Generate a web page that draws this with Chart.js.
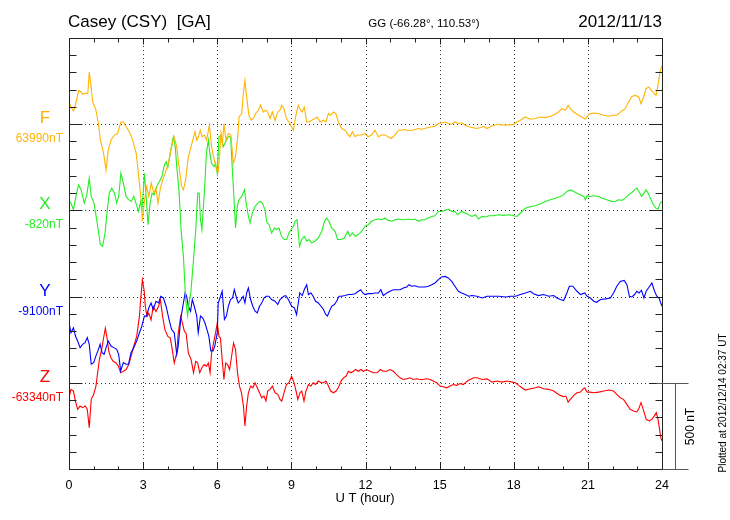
<!DOCTYPE html>
<html>
<head>
<meta charset="utf-8">
<script src="https://cdn.jsdelivr.net/npm/chart.js@4.4.0/dist/chart.umd.min.js"></script>
<style>
body { margin: 0; background: #fff; }
</style>
</head>
<body>
<canvas id="myChart" width="730" height="520"></canvas>
<script>
/* 성분별 데이터 (기준값 대비 nT 편차) */
const components = ['F', 'X', 'Y', 'Z'];
const baseLabels = ['63990nT', '-820nT', '-9100nT', '-63340nT'];
const offsets = [1500, 1000, 500, 0];
const colors = ['#ffb400', '#22ee22', '#0000ff', '#ff0000'];
const hourLabels = [0, 3, 6, 9, 12, 15, 18, 21, 24];

const fTimes = [0, .08, .18, .26, .39, .49, .55, .69, .76, .82, .88, .96, 1.09, 1.19, 1.27, 1.4, 1.5, 1.59, 1.7, 1.84, 1.97, 2.1, 2.2, 2.3, 2.44, 2.58, 2.72, 2.82, 2.92, 2.97,
	3.06, 3.14, 3.23, 3.33, 3.43, 3.52, 3.6, 3.7, 3.79, 3.89, 4.02, 4.15, 4.25, 4.36, 4.45, 4.56, 4.63, 4.72, 4.83, 4.94, 5.04, 5.1, 5.17, 5.24, 5.31, 5.39, 5.48, 5.57, 5.68, 5.77,
	5.88, 5.98, 6.04, 6.1, 6.15, 6.21, 6.27, 6.35, 6.45, 6.55, 6.65, 6.74, 6.83, 6.88, 6.99, 7.05, 7.12, 7.19, 7.28, 7.37, 7.46, 7.55, 7.66, 7.75, 7.86, 7.97,
	8.04, 8.14, 8.23, 8.34, 8.45, 8.54, 8.61, 8.7, 8.8, 8.94, 9.08, 9.17, 9.28, 9.37, 9.44, 9.52, 9.62, 9.71, 9.82, 9.96, 10.05, 10.16, 10.3, 10.4, 10.5, 10.6, 10.7, 10.8, 10.9,
	11.04, 11.17, 11.31, 11.37, 11.47, 11.58, 11.68, 11.85, 11.98, 12.1, 12.24, 12.38, 12.52, 12.65, 12.79, 12.92, 13.03, 13.19, 13.33, 13.47, 13.6, 13.73, 13.87, 14.0,
	14.14, 14.27, 14.41, 14.54, 14.68, 14.81, 14.95, 15.08, 15.22, 15.35, 15.49, 15.62, 15.76, 15.89, 16.04, 16.17, 16.31, 16.51, 16.65, 16.78, 16.92, 17.05, 17.19, 17.39,
	17.59, 17.8, 18.0, 18.13, 18.27, 18.47, 18.67, 18.88, 19.08, 19.28, 19.48, 19.68, 19.81, 19.95, 20.09, 20.2, 20.29, 20.43, 20.63, 20.76, 20.9, 21.03, 21.23, 21.43,
	21.64, 21.84, 22.04, 22.17, 22.38, 22.51, 22.65, 22.78, 22.92, 23.06, 23.15, 23.26, 23.35, 23.46, 23.57, 23.66, 23.76, 23.87, 23.93, 24.0];
const fValues = [129, 100, 77, 110, 196, 187, 173, 181, 177, 302, 235, 129, 81, 4, -92, -169, -265, -150, -92, -63, -54, 13, 13, -12, -44, -92, -169, -304, -438, -563,
	-438, -361, -419, -342, -400, -371, -458, -371, -323, -285, -227, -131, -73, -131, -246, -361, -381, -323, -188, -131, -73, -44, -92, -73, -35, -73, -63, -92, -6, -131,
	-208, -265, -275, -169, -54, -111, 4, -92, -54, -63, -227, -188, -73, 42, 62, 167, 254, 158, 52, 23, 33, 62, 81, 110, 71, 81,
	71, 33, 71, 23, 71, 81, 110, 90, 33, 4, -35, 42, 110, 81, 71, 100, 13, 13, 23, 33, 42, 13, 23, 13, 62, 52, 71, 62, 13,
	-25, -35, -63, -73, -44, -73, -63, -63, -54, -73, -63, -35, -73, -63, -63, -73, -83, -63, -35, -35, -31, -38, -35, -31,
	-25, -29, -25, -19, -15, -12, 4, 8, 13, 4, 0, 13, 4, 8, -6, -15, -19, -25, -19, -12, -25, -15, -6, 0,
	-6, -4, 0, 13, 23, 42, 29, 33, 42, 38, 46, 58, 71, 90, 81, 110, 90, 71, 52, 42, 29, 58, 65, 62,
	52, 46, 52, 52, 77, 90, 129, 161, 167, 158, 119, 158, 206, 215, 196, 181, 167, 254, 311, 340];

const xTimes = [0, .08, .18, .28, .39, .49, .62, .72, .82, .9, 1.01, 1.12, 1.2, 1.27, 1.36, 1.46, 1.55, 1.63, 1.73, 1.84, 1.93, 2.01, 2.1, 2.2, 2.31, 2.41, 2.52, 2.62, 2.71, 2.81,
	2.9, 2.95, 3.05, 3.12, 3.2, 3.28, 3.36, 3.45, 3.55, 3.66, 3.76, 3.86, 3.93, 4.0, 4.12, 4.22, 4.3, 4.36, 4.45, 4.54, 4.63, 4.72, 4.8, 4.86, 4.93, 5.04, 5.13, 5.21, 5.27, 5.32,
	5.38, 5.44, 5.5, 5.56, 5.64, 5.7, 5.77, 5.87, 5.93, 6.0, 6.07, 6.15, 6.24, 6.34, 6.45, 6.54, 6.62, 6.68, 6.74, 6.81, 6.88, 6.99, 7.1, 7.17, 7.26, 7.33, 7.42, 7.53, 7.64, 7.73,
	7.83, 7.93, 8.01, 8.1, 8.2, 8.31, 8.4, 8.5, 8.6, 8.71, 8.81, 8.9, 8.99, 9.08, 9.15, 9.23, 9.28, 9.33, 9.42, 9.52, 9.62, 9.71, 9.82, 9.96, 10.09, 10.23, 10.34, 10.43, 10.52,
	10.63, 10.77, 10.87, 11.01, 11.14, 11.28, 11.37, 11.47, 11.58, 11.71, 11.85, 11.98, 12.11, 12.25, 12.38, 12.52, 12.65, 12.79, 12.92, 13.06, 13.2, 13.33, 13.47, 13.6,
	13.73, 13.87, 14.0, 14.14, 14.27, 14.41, 14.54, 14.68, 14.81, 14.95, 15.08, 15.22, 15.35, 15.49, 15.62, 15.73, 15.89, 16.04, 16.17, 16.31, 16.45, 16.58, 16.72, 16.85,
	16.99, 17.19, 17.39, 17.59, 17.8, 18.0, 18.13, 18.27, 18.47, 18.67, 18.88, 19.08, 19.28, 19.48, 19.68, 19.88, 20.01, 20.15, 20.29, 20.43, 20.56, 20.7, 20.83, 20.9,
	20.97, 21.11, 21.24, 21.44, 21.57, 21.71, 21.84, 21.98, 22.11, 22.24, 22.38, 22.51, 22.65, 22.78, 22.89, 22.98, 23.07, 23.17, 23.27, 23.36, 23.45, 23.56, 23.65, 23.75,
	23.84, 23.93, 24.0];
const xValues = [52, 42, 4, 81, 148, 119, 42, 90, 187, 81, 42, -54, -131, -198, -208, -131, 4, 100, 129, 100, 42, 81, 215, 158, 81, 62, 52, 81, 42, -6,
	52, -6, 215, 81, -83, 42, 100, 90, 138, 167, 196, 263, 283, 250, 350, 427, 370, 254, 119, -120, -265, -515, -611, -535, -477, -285, -111, 100, 100, -54,
	-111, 23, 158, 331, 408, 331, 273, 254, 273, 215, 427, 437, 369, 398, 427, 427, 215, 62, -102, 23, 62, 81, 119, 42, -35, -73, -15, 23, 42, 52,
	42, 4, -70, -83, -131, -102, -111, -102, -150, -169, -169, -131, -111, -92, -63, -54, -131, -208, -169, -150, -179, -169, -188, -179, -160, -121, -63, -44, -63,
	-102, -121, -169, -169, -160, -121, -150, -131, -150, -140, -121, -92, -83, -63, -54, -50, -54, -44, -58, -63, -54, -50, -54, -54,
	-50, -54, -50, -63, -54, -54, -44, -35, -31, -6, -6, 0, 8, -6, -6, -25, -6, -15, -25, -35, -25, -50, -35, -38,
	-31, -31, -25, -29, -25, -31, -35, -15, 13, 23, 27, 38, 52, 62, 71, 81, 90, 110, 119, 110, 100, 90, 81, 62,
	85, 81, 85, 81, 71, 65, 58, 52, 52, 62, 58, 71, 90, 104, 119, 129, 110, 81, 100, 119, 96, 62, 33, 13,
	8, 42, 52];

const yTimes = [0, .08, .18, .26, .35, .45, .55, .65, .74, .82, .9, 1.0, 1.09, 1.17, 1.26, 1.34, 1.42, 1.5, 1.59, 1.7, 1.81, 1.93, 2.01, 2.09, 2.2, 2.31, 2.41, 2.51, 2.62, 2.74,
	2.85, 2.95, 3.05, 3.14, 3.23, 3.32, 3.41, 3.52, 3.63, 3.71, 3.82, 3.93, 4.05, 4.15, 4.26, 4.36, 4.42, 4.52, 4.63, 4.7, 4.76, 4.83, 4.92, 4.99, 5.07, 5.17, 5.23, 5.32, 5.41, 5.5,
	5.58, 5.66, 5.74, 5.83, 5.9, 6.0, 6.04, 6.11, 6.2, 6.29, 6.37, 6.45, 6.54, 6.62, 6.69, 6.78, 6.85, 6.96, 7.05, 7.12, 7.19, 7.26, 7.35, 7.44, 7.53, 7.62, 7.71, 7.8, 7.89, 7.98,
	8.09, 8.2, 8.34, 8.45, 8.54, 8.69, 8.77, 8.88, 9.01, 9.12, 9.21, 9.28, 9.34, 9.44, 9.52, 9.62, 9.69, 9.79, 9.88, 9.98, 10.09, 10.2, 10.3, 10.39, 10.46, 10.54, 10.63, 10.74,
	10.83, 10.93, 11.04, 11.17, 11.31, 11.44, 11.58, 11.71, 11.81, 11.89, 11.98, 12.11, 12.25, 12.38, 12.52, 12.62, 12.72, 12.86, 12.99, 13.13, 13.26, 13.4, 13.53, 13.67,
	13.76, 13.87, 14.0, 14.14, 14.27, 14.41, 14.54, 14.68, 14.81, 14.95, 15.08, 15.22, 15.35, 15.49, 15.62, 15.76, 15.89, 16.04, 16.17, 16.31, 16.51, 16.72, 16.92, 17.12,
	17.39, 17.67, 17.87, 18.07, 18.27, 18.47, 18.67, 18.8, 19.0, 19.21, 19.41, 19.62, 19.75, 19.88, 20.02, 20.15, 20.25, 20.39, 20.56, 20.7, 20.87, 20.97, 21.1, 21.24,
	21.35, 21.51, 21.71, 21.91, 22.04, 22.17, 22.31, 22.47, 22.58, 22.68, 22.78, 22.89, 22.98, 23.07, 23.17, 23.27, 23.36, 23.45, 23.59, 23.7, 23.79, 23.88, 23.95, 24.0];
const yValues = [-152, -210, -181, -229, -258, -296, -277, -267, -238, -277, -392, -383, -344, -315, -277, -325, -335, -296, -258, -287, -296, -306, -335, -431, -383, -392, -392, -325, -296, -258,
	-210, -171, -113, -113, -65, -37, -75, -27, -37, 2, -8, -56, -133, -190, -210, -335, -287, -133, -37, 21, 2, -56, -85, -17, -56, -113, -210, -113, -123, -152,
	-190, -229, -315, -315, -287, -210, -37, -8, 31, -133, -113, -56, -17, -8, 40, -8, -37, -17, 2, -37, 21, 50, -17, -56, -85, -94, -56, -37, -8, 2,
	2, -17, -27, -46, -17, 2, 6, -17, -56, -65, -104, -37, 21, 6, 40, 69, 12, 21, 2, -27, -37, -56, -75, -104, -113, -85, -56, -46,
	-27, 2, 2, 6, 12, 12, 17, 31, 40, 21, 12, 17, 17, 21, 21, 40, 6, 21, 31, 40, 40, 40, 50, 56,
	69, 60, 63, 56, 56, 56, 60, 69, 79, 98, 114, 117, 108, 88, 60, 31, 21, 12, 2, 6, 2, -8, 2, 2,
	2, -2, 2, 2, 12, 21, 31, 17, 6, 12, 2, 6, -8, -17, -23, 21, 60, 60, 31, 12, 21, 2, -8, -27,
	-33, -17, -13, -8, 21, 60, 88, 94, 69, 2, -2, 12, 31, 21, 37, -8, 31, 50, 79, 31, 2, -8, -37, -56];

const zTimes = [0, .08, .18, .26, .35, .45, .55, .66, .74, .82, .9, 1.0, 1.09, 1.16, 1.23, 1.32, 1.4, 1.47, 1.54, 1.61, 1.7, 1.79, 1.9, 2.0, 2.09, 2.2, 2.31, 2.42, 2.51, 2.62,
	2.74, 2.85, 2.91, 2.97, 3.04, 3.09, 3.16, 3.23, 3.32, 3.41, 3.52, 3.62, 3.7, 3.79, 3.88, 4.0, 4.1, 4.18, 4.26, 4.36, 4.42, 4.52, 4.59, 4.67, 4.74, 4.83, 4.94, 5.04, 5.13, 5.21,
	5.29, 5.38, 5.47, 5.56, 5.64, 5.71, 5.77, 5.85, 5.93, 6.0, 6.07, 6.13, 6.2, 6.27, 6.34, 6.42, 6.5, 6.58, 6.66, 6.74, 6.82, 6.9, 6.98, 7.06, 7.12, 7.19, 7.26, 7.35, 7.44, 7.53,
	7.62, 7.71, 7.8, 7.89, 7.97, 8.04, 8.14, 8.23, 8.34, 8.45, 8.54, 8.61, 8.7, 8.8, 8.9, 9.01, 9.11, 9.19, 9.26, 9.35, 9.42, 9.51, 9.59, 9.69, 9.79, 9.88, 9.98, 10.09, 10.2,
	10.3, 10.4, 10.5, 10.59, 10.7, 10.81, 10.9, 11.01, 11.11, 11.21, 11.31, 11.41, 11.51, 11.6, 11.71, 11.82, 11.91, 12.05, 12.18, 12.33, 12.47, 12.6, 12.72, 12.86, 12.99,
	13.13, 13.26, 13.4, 13.53, 13.67, 13.8, 13.93, 14.07, 14.2, 14.34, 14.47, 14.61, 14.74, 14.88, 15.02, 15.15, 15.29, 15.42, 15.56, 15.69, 15.83, 15.96, 16.04, 16.17,
	16.38, 16.51, 16.72, 16.92, 17.12, 17.32, 17.53, 17.73, 17.94, 18.07, 18.2, 18.33, 18.47, 18.67, 18.88, 19.0, 19.21, 19.41, 19.62, 19.75, 19.88, 20.02, 20.11, 20.2,
	20.29, 20.43, 20.56, 20.7, 20.79, 20.87, 20.97, 21.1, 21.24, 21.44, 21.64, 21.84, 22.04, 22.17, 22.31, 22.44, 22.58, 22.71, 22.85, 22.98, 23.05, 23.15, 23.26, 23.36,
	23.48, 23.59, 23.69, 23.77, 23.84, 23.9, 23.95, 24.0];
const zValues = [-87, -38, -48, -106, -154, -135, -144, -135, -154, -260, -96, -67, -19, 58, 135, 192, 260, 317, 260, 183, 144, 125, 115, 96, 58, 67, 77, 106, 154, 212,
	269, 385, 500, 596, 538, 442, 385, 404, 365, 442, 413, 442, 481, 385, 308, 269, 260, 192, 115, 173, 288, 385, 346, 298, 288, 173, 135, 58, 125, 115,
	58, 87, 106, 96, 115, 58, 173, 231, 288, 346, 269, 260, 135, 19, 115, 106, 77, 154, 231, 192, 58, -19, -58, -135, -250, -135, -58, -19, -29, 0,
	-29, -58, -87, -77, -106, -48, -38, -19, -58, -67, -96, -106, -58, -10, 0, 38, 0, -48, -96, -58, -48, -106, -48, -10, -19, 0, -10, 10, 0,
	0, 10, -19, -48, -58, -48, -29, 10, 29, 38, 67, 58, 67, 77, 67, 77, 67, 77, 67, 58, 58, 77, 67, 67, 77,
	67, 48, 29, 19, 23, 29, 19, 23, 19, 19, 23, 19, 10, 0, -19, -23, -29, -19, -10, -15, -4, -10, 0, 15,
	29, 29, 19, 23, 4, 10, 4, 10, 4, 0, -15, -29, -42, -35, -29, -23, -35, -38, -48, -62, -73, -81, -77, -112,
	-96, -73, -58, -54, -38, -29, -54, -54, -58, -54, -48, -42, -48, -67, -87, -96, -125, -154, -163, -169, -154, -115, -163, -212,
	-221, -212, -192, -173, -212, -269, -317, -337];

const seriesTimes = [fTimes, xTimes, yTimes, zTimes];
const seriesValues = [fValues, xValues, yValues, zValues];

// 축, 눈금, 글자 그리기 플러그인
const magPlot = {
	id: 'magPlot',
	beforeDatasetsDraw(chart) {
		const ctx = chart.ctx, a = chart.chartArea;
		const xs = chart.scales.x, ys = chart.scales.y;
		ctx.save();
		ctx.strokeStyle = '#333';
		ctx.lineWidth = 1;
		ctx.setLineDash([1, 3]);
		for (let h = 3; h < 24; h += 3) {
			const px = Math.round(xs.getPixelForValue(h)) + 0.5;
			ctx.beginPath(); ctx.moveTo(px, a.top); ctx.lineTo(px, a.bottom); ctx.stroke();
		}
		offsets.forEach(function(o) {
			const py = Math.round(ys.getPixelForValue(o)) + 0.5;
			ctx.beginPath(); ctx.moveTo(a.left, py); ctx.lineTo(a.right, py); ctx.stroke();
		});
		ctx.restore();
	},
	afterDraw(chart) {
		const ctx = chart.ctx, a = chart.chartArea;
		const xs = chart.scales.x, ys = chart.scales.y;
		ctx.save();
		ctx.strokeStyle = '#222';
		ctx.lineWidth = 1;
		ctx.setLineDash([]);
		const L = Math.round(a.left) + 0.5, R = Math.round(a.right) + 0.5;
		const T = Math.round(a.top) + 0.5, B = Math.round(a.bottom) + 0.5;
		ctx.strokeRect(L, T, R - L, B - T);

		// y 눈금 (100 nT)
		for (let v = -400; v < 2000; v += 100) {
			const py = Math.round(ys.getPixelForValue(v)) + 0.5;
			const len = offsets.includes(v) ? 13 : 7;
			ctx.beginPath();
			ctx.moveTo(L, py); ctx.lineTo(L + len, py);
			ctx.moveTo(R, py); ctx.lineTo(R - len, py);
			ctx.stroke();
		}
		// x 눈금 (1시간)
		for (let h = 1; h < 24; h++) {
			const px = Math.round(xs.getPixelForValue(h)) + 0.5;
			const big = h % 3 === 0;
			ctx.beginPath();
			ctx.moveTo(px, T); ctx.lineTo(px, T + (big ? 6 : 4));
			ctx.moveTo(px, B); ctx.lineTo(px, B - (big ? 7 : 3));
			ctx.stroke();
		}

		// 500 nT 스케일 바
		const z0 = Math.round(ys.getPixelForValue(0)) + 0.5;
		const zm = Math.round(ys.getPixelForValue(-500)) + 0.5;
		ctx.strokeStyle = '#555';
		ctx.beginPath();
		ctx.moveTo(R - 6, z0); ctx.lineTo(R + 26, z0);
		ctx.moveTo(R, zm); ctx.lineTo(R + 26, zm);
		ctx.moveTo(R + 13, z0); ctx.lineTo(R + 13, zm);
		ctx.stroke();

		// 글자
		ctx.fillStyle = '#000';
		ctx.font = '17px "Liberation Sans", Arial, sans-serif';
		ctx.textBaseline = 'alphabetic';
		ctx.textAlign = 'left';
		ctx.fillText('Casey (CSY)  [GA]', 68, 27);
		ctx.textAlign = 'right';
		ctx.fillText('2012/11/13', 662, 27);
		ctx.font = '11.5px "Liberation Sans", Arial, sans-serif';
		ctx.textAlign = 'center';
		ctx.fillText('GG (-66.28\u00b0, 110.53\u00b0)', 424, 27);

		ctx.font = '12.5px "Liberation Sans", Arial, sans-serif';
		hourLabels.forEach(function(h) {
			ctx.fillText(String(h), xs.getPixelForValue(h), 489);
		});
		ctx.font = '13px "Liberation Sans", Arial, sans-serif';
		ctx.fillText('U T (hour)', 365, 502);

		components.forEach(function(c, i) {
			const py = ys.getPixelForValue(offsets[i]);
			ctx.fillStyle = colors[i];
			ctx.textAlign = 'center';
			ctx.font = '17px "Liberation Sans", Arial, sans-serif';
			ctx.fillText(c, 45, py - 1);
			ctx.textAlign = 'right';
			ctx.font = '12px "Liberation Sans", Arial, sans-serif';
			ctx.fillText(baseLabels[i], 63, py + 18);
		});

		ctx.fillStyle = '#000';
		ctx.save();
		ctx.translate(694, (z0 + zm) / 2);
		ctx.rotate(-Math.PI / 2);
		ctx.textAlign = 'center';
		ctx.font = '12px "Liberation Sans", Arial, sans-serif';
		ctx.fillText('500 nT', 0, 0);
		ctx.restore();

		ctx.save();
		ctx.translate(726, 403);
		ctx.rotate(-Math.PI / 2);
		ctx.textAlign = 'center';
		ctx.font = '10px "Liberation Sans", Arial, sans-serif';
		ctx.fillText('Plotted at 2012/12/14 02:37 UT', 0, 0);
		ctx.restore();

		ctx.restore();
	}
};

const datasets = components.map(function(c, i) {
	return {
		label: c,
		data: seriesTimes[i].map(function(t, k) { return { x: t, y: seriesValues[i][k] + offsets[i] }; }),
		borderColor: colors[i],
		borderWidth: 1.1,
		pointRadius: 0,
		tension: 0,
		fill: false
	};
});

var myChart = new Chart(document.getElementById('myChart'), {
	type: 'line',
	data: { datasets: datasets },
	options: {
		responsive: false,
		animation: false,
		parsing: false,
		layout: { padding: { left: 69, right: 68, top: 38, bottom: 51 } },
		plugins: { legend: { display: false }, tooltip: { enabled: false } },
		scales: {
			x: { type: 'linear', min: 0, max: 24, display: false },
			y: { type: 'linear', min: -500, max: 2000, display: false }
		}
	},
	plugins: [magPlot]
});
</script>
</body>
</html>
